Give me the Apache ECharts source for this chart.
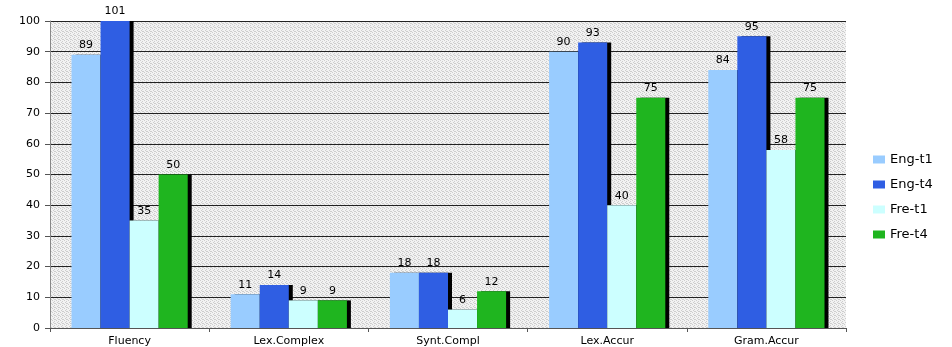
<!DOCTYPE html>
<html><head><meta charset="utf-8">
<script src="https://cdn.jsdelivr.net/npm/echarts@6/dist/echarts.min.js"></script>
<style>html,body{margin:0;padding:0;background:#fff}#c{width:952px;height:347px}</style>
</head><body><div id="c"></div>
<script>
const categories = ['Fluency', 'Lex.Complex', 'Synt.Compl', 'Lex.Accur', 'Gram.Accur'];
const engT1 = [89, 11, 18, 90, 84];
const engT4 = [101, 14, 18, 93, 95];
const freT1 = [35, 9, 6, 40, 58];
const freT4 = [50, 9, 12, 75, 75];
const seriesNames = ['Eng-t1', 'Eng-t4', 'Fre-t1', 'Fre-t4'];
const colors = ['#99ccff', '#2f5ee3', '#ccffff', '#1fb51f'];

// dithered gray pattern for plot background
const pc = document.createElement('canvas');
pc.width = 4; pc.height = 4;
const pctx = pc.getContext('2d');
pctx.fillStyle = '#f2f2f2'; pctx.fillRect(0,0,4,4);
pctx.fillStyle = '#cdcdcd';
[[0,0],[2,1],[1,2],[3,3],[2,3]].forEach(p=>pctx.fillRect(p[0],p[1],1,1));

const chart = echarts.init(document.getElementById('c'));
const allData = [engT1, engT4, freT1, freT4];
chart.setOption({
  animation: false,
  grid: { left: 50, right: 106, top: 21, bottom: 19, show: true,
          backgroundColor: { image: pc, repeat: 'repeat' }, borderWidth: 0 },
  legend: {
    orient: 'vertical', left: 868, top: 148, itemGap: 12,
    itemWidth: 12, itemHeight: 8, icon: 'rect',
    textStyle: { fontFamily: 'DejaVu Sans', fontSize: 13, color: '#000' },
    data: seriesNames
  },
  xAxis: {
    type: 'category', data: categories,
    axisLine: { lineStyle: { color: '#555' } },
    axisTick: { show: true, alignWithLabel: false, length: 4, lineStyle: { color: '#555' } },
    axisLabel: { fontFamily: 'DejaVu Sans', fontSize: 11, color: '#000', margin: 8 }
  },
  yAxis: {
    type: 'value', min: 0, max: 100, interval: 10,
    axisLine: { show: true, lineStyle: { color: '#888' } },
    axisTick: { show: true, length: 5, lineStyle: { color: '#555' } },
    axisLabel: { fontFamily: 'DejaVu Sans', fontSize: 11, color: '#000', margin: 10 },
    splitLine: { lineStyle: { color: '#222', width: 1 } }
  },
  series: allData.map((d, i) => ({
    name: seriesNames[i], type: 'bar', data: d,
    barGap: '0%', barCategoryGap: '27%',
    itemStyle: { color: colors[i], shadowColor: '#000', shadowOffsetX: 4, shadowOffsetY: 0, shadowBlur: 0 },
    label: { show: true, position: 'top', distance: 4, fontFamily: 'DejaVu Sans', fontSize: 11, color: '#000' }
  }))
});
</script></body></html>
